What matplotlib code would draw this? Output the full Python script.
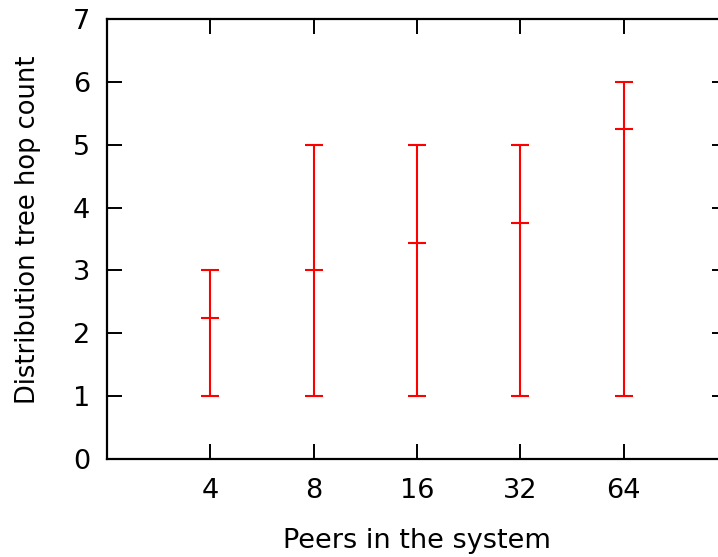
import matplotlib
matplotlib.use("Agg")
import matplotlib.pyplot as plt

# ── Data ──────────────────────────────────────────────────────────────────────
peers    = ["4", "8", "16", "32", "64"]
hop_mean = [2.25, 3.0, 3.43, 3.75, 5.25]
hop_min  = [1, 1, 1, 1, 1]
hop_max  = [3, 5, 5, 5, 6]

plt.rcParams.update({
    "font.family": "DejaVu Sans",
    "font.size":   19.5,
})

W, H = 718, 557
fig = plt.figure(figsize=(W / 100, H / 100), dpi=100)
ax = fig.add_axes([107 / W, 1 - 459 / H, 620 / W, 440 / H])

xs = list(range(1, len(peers) + 1))
lo = [m - a for m, a in zip(hop_mean, hop_min)]
hi = [b - m for m, b in zip(hop_mean, hop_max)]

ax.errorbar(xs, hop_mean, yerr=[lo, hi], fmt="none", ecolor="red",
            elinewidth=1.5, capsize=6.5, capthick=1.5)
ax.plot(xs, hop_mean, linestyle="none", marker="_", markersize=13,
        markeredgewidth=1.5, color="red")

ax.set_xlim(0, 6)
ax.set_ylim(0, 7)
ax.set_xticks(xs)
ax.set_xticklabels(peers)
ax.set_yticks(range(0, 8))

ax.tick_params(direction="in", length=11, width=1.4, top=True, right=True)
ax.tick_params(axis="x", pad=14)
ax.tick_params(axis="y", pad=12)
for s in ax.spines.values():
    s.set_linewidth(1.6)

ax.set_xlabel("Peers in the system", labelpad=17)
ax.set_ylabel("Distribution tree hop count", fontsize=18.5)
ax.yaxis.set_label_coords(-0.107, 0.52)

fig.savefig("out.png", dpi=100)
